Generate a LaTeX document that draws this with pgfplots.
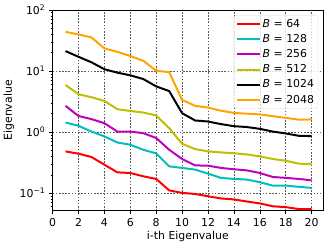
\documentclass[border=0pt]{standalone}
\usepackage{fontspec}
\setmainfont{DejaVu Sans}
\usepackage{pgfplots}
\pgfplotsset{compat=1.18}
\definecolor{mpc}{rgb}{0,0.75,0.75}
\definecolor{mpm}{rgb}{0.75,0,0.75}
\definecolor{mpy}{rgb}{0.75,0.75,0}
\definecolor{mpo}{rgb}{1,0.647,0}
\begin{document}
\fontsize{11}{13}\selectfont
\begin{tikzpicture}
\begin{axis}[
  ymode=log, scale only axis, width=272bp, height=202bp,
  xmin=0, xmax=20.88, ymin=0.0514, ymax=100,
  xtick={0,2,...,20},
  ytick={0.1,1,10,100},
  yticklabels={10\textsuperscript{−1},10\textsuperscript{0},10\textsuperscript{1},10\textsuperscript{2}},
  minor ytick={0.06,0.07,0.08,0.09,0.2,0.3,0.4,0.5,0.6,0.7,0.8,0.9,2,3,4,5,6,7,8,9,20,30,40,50,60,70,80,90},
  grid=major,
  major grid style={gray!70!black, line width=0.5bp, dash pattern=on 1.6bp off 1.6bp},
  minor grid style={draw=none},
  tick align=outside, tick pos=left,
  major tick style={black, line width=0.6bp},
  minor tick style={black, line width=0.5bp},
  major tick length=3.5bp, minor tick length=2bp,
  axis line style={black, line width=0.7bp},
  /pgf/number format/assume math mode=true,
  tick label style={font=\fontsize{11}{13}\selectfont},
  label style={font=\fontsize{11}{13}\selectfont},
  xlabel={i-th Eigenvalue}, ylabel={Eigenvalue},
  xlabel style={yshift=3bp},
  ylabel style={yshift=-2bp},
  legend cell align=left,
  legend style={at={(rel axis cs:0.982,0.975)}, anchor=north east,
    draw=gray!30, rounded corners=2bp, fill=white, fill opacity=0.8, text opacity=1,
    row sep=1.5bp, inner sep=2bp, font=\fontsize{11}{13}\selectfont},
  legend image code/.code={\draw[#1, line width=2bp] (0bp,0bp) -- (23bp,0bp);},
  every axis plot/.append style={line width=2bp},
]
\addplot[red] coordinates {(1,0.483)(2,0.443)(3,0.391)(4,0.293)(5,0.219)(6,0.214)(7,0.189)(8,0.171)(9,0.111)(10,0.101)(11,0.097)(12,0.089)(13,0.082)(14,0.079)(15,0.073)(16,0.068)(17,0.061)(18,0.059)(19,0.055)(20,0.055)};
\addlegendentry{\textit{B} = 64}
\addplot[mpc] coordinates {(1,1.43)(2,1.27)(3,1.02)(4,0.85)(5,0.676)(6,0.621)(7,0.514)(8,0.447)(9,0.275)(10,0.259)(11,0.243)(12,0.209)(13,0.178)(14,0.171)(15,0.167)(16,0.151)(17,0.133)(18,0.133)(19,0.127)(20,0.122)};
\addlegendentry{\textit{B} = 128}
\addplot[mpm] coordinates {(1,2.69)(2,1.84)(3,1.63)(4,1.40)(5,1.02)(6,1.02)(7,0.96)(8,0.80)(9,0.514)(10,0.363)(11,0.285)(12,0.282)(13,0.259)(14,0.246)(15,0.236)(16,0.214)(17,0.184)(18,0.178)(19,0.171)(20,0.162)};
\addlegendentry{\textit{B} = 256}
\addplot[mpy] coordinates {(1,5.9)(2,4.17)(3,3.72)(4,3.24)(5,2.37)(6,2.22)(7,2.09)(8,1.87)(9,1.16)(10,0.644)(11,0.528)(12,0.483)(13,0.465)(14,0.45)(15,0.431)(16,0.400)(17,0.363)(18,0.340)(19,0.304)(20,0.30)};
\addlegendentry{\textit{B} = 512}
\addplot[black] coordinates {(1,21.2)(2,17.1)(3,13.9)(4,10.7)(5,9.4)(6,8.5)(7,7.4)(8,5.6)(9,4.7)(10,2.04)(11,1.55)(12,1.49)(13,1.35)(14,1.25)(15,1.21)(16,1.13)(17,1.02)(18,0.95)(19,0.87)(20,0.86)};
\addlegendentry{\textit{B} = 1024}
\addplot[mpo] coordinates {(1,43.8)(2,39.7)(3,35.5)(4,23.5)(5,20.6)(6,17.6)(7,14.7)(8,10.1)(9,9.6)(10,3.37)(11,2.69)(12,2.52)(13,2.24)(14,2.06)(15,2.0)(16,1.95)(17,1.82)(18,1.71)(19,1.60)(20,1.61)};
\addlegendentry{\textit{B} = 2048}
\end{axis}
\path[use as bounding box] ([xshift=-51bp,yshift=-36bp]current axis.south west) rectangle ([xshift=9bp,yshift=10bp]current axis.north east);
\end{tikzpicture}
\end{document}
